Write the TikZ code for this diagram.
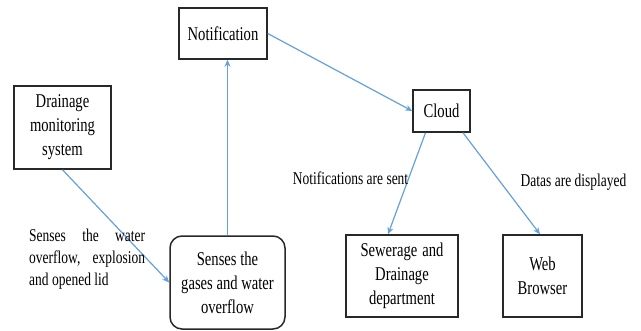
\documentclass[tikz,border=0pt]{standalone}
\usepackage{fontspec}
\setmainfont{Liberation Serif}[FakeStretch=0.75]
\usetikzlibrary{calc,arrows.meta}
\definecolor{arrowblue}{RGB}{100,160,220}
\definecolor{boxline}{RGB}{40,40,40}
\begin{document}
\begin{tikzpicture}[x=1pt,y=-1pt,
  boxtxt/.style={font=\fontsize{19.5}{24}\selectfont, align=center, inner sep=0pt},
  sqbox/.style={boxtxt, draw=boxline, line width=1.5pt},
  rbox/.style={sqbox, rounded corners=12pt},
  lbl/.style={font=\fontsize{18}{22}\selectfont, inner sep=0pt},
  link/.style={draw=arrowblue, line width=1.2pt, -{Stealth[length=7pt,width=6pt]}}]
\useasboundingbox (0,0) rectangle (641,330);
\node[sqbox, minimum width=97pt, minimum height=83pt] (drain) at (62.5,127.5) {Drainage\\monitoring\\system};
\node[sqbox, minimum width=88pt, minimum height=51pt] (notif) at (223,33.5) {Notification};
\node[sqbox, minimum width=57pt, minimum height=42pt] (cloud) at (441.5,111) {Cloud};
\node[rbox, minimum width=115pt, minimum height=93pt] (senses) at (227.5,282.5) {Senses the\\gases and water\\overflow};
\node[sqbox, minimum width=112pt, minimum height=82pt] (sew) at (402,276) {\makebox[83pt][s]{Sewerage and}\\Drainage\\department};
\node[sqbox, minimum width=79pt, minimum height=82pt] (web) at (542.5,276) {Web\\Browser};
\draw[link] (drain.south) -- (senses.west);
\draw[link] (senses.north) -- (senses.north |- notif.south);
\draw[link] (notif.east) -- (cloud.west);
\draw[link] ($(cloud.south)+(-16,0)$) -- ($(sew.north)+(-14,0)$);
\draw[link] ($(cloud.south)+(21.5,0)$) -- ($(web.north)+(-2.5,0)$);
\node[lbl, anchor=north west, text width=116pt, align=justify] (lsense) at (29,229) {Senses the water overflow, explosion and opened lid};
\node[lbl] (lnotif) at (350.5,178) {Notifications are sent};
\node[lbl] (ldata) at (573.5,182) {Datas are displayed};
\end{tikzpicture}
\end{document}
